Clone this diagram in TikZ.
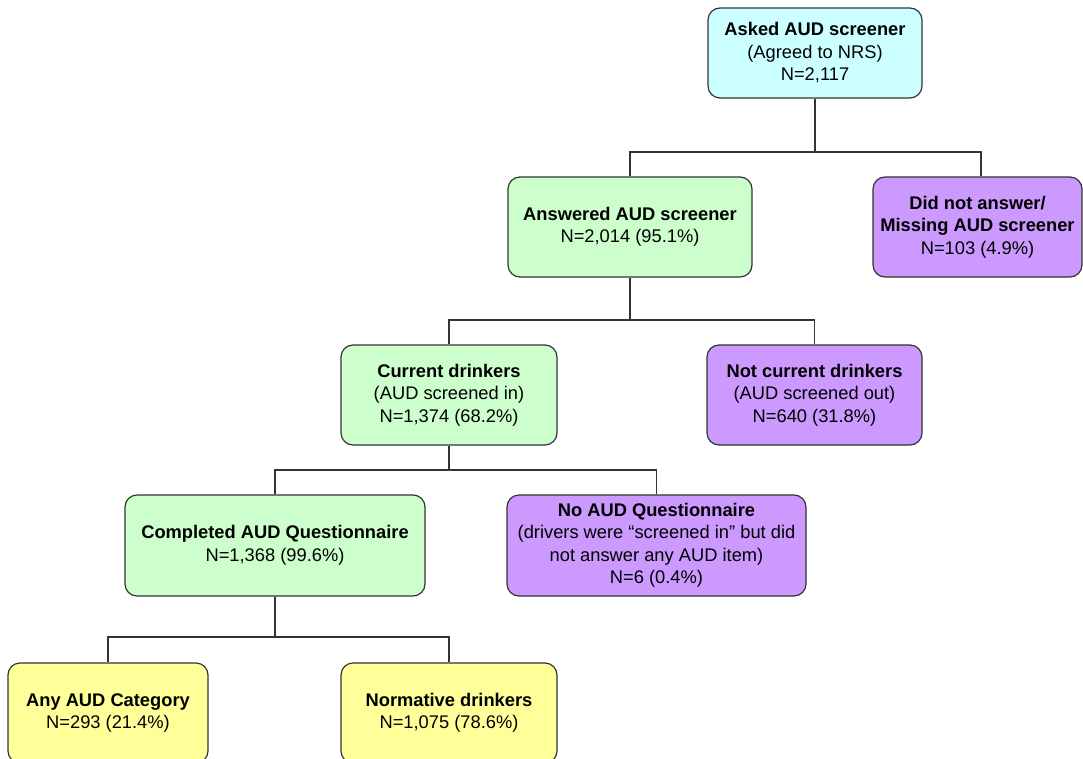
\documentclass[tikz,border=0pt]{standalone}
\usepackage{fontspec}
\setmainfont{Liberation Sans}
\definecolor{cyanbox}{HTML}{CCFFFF}
\definecolor{greenbox}{HTML}{CCFFCC}
\definecolor{purplebox}{HTML}{CC99FF}
\definecolor{yellowbox}{HTML}{FFFF99}
\definecolor{edge}{HTML}{333333}
\tikzset{
  box/.style={draw=edge, line width=1.2pt, rounded corners=12pt, align=center,
    inner sep=1pt, font=\fontsize{18.3}{22.5}\selectfont, text=black},
  link/.style={draw=edge, line width=1.3pt},
}
\begin{document}
\begin{tikzpicture}[x=1pt,y=-1pt]
\useasboundingbox (0,0) rectangle (1083,759);
\clip (0,0) rectangle (1083,759);
\fill[white] (0,0) rectangle (1083,759);
\node[box, fill=cyanbox, minimum width=214pt, minimum height=90pt] (top) at (815,53)
  {\textbf{Asked AUD screener}\\(Agreed to NRS)\\N=2,117};
\node[box, fill=greenbox, minimum width=244pt, minimum height=100pt] (ans) at (630,227)
  {\textbf{Answered AUD screener}\\N=2,014 (95.1\%)};
\node[box, fill=purplebox, minimum width=209pt, minimum height=100pt] (miss) at (977.5,227)
  {\textbf{Did not answer/}\\\textbf{Missing AUD screener}\\N=103 (4.9\%)};
\node[box, fill=greenbox, minimum width=216pt, minimum height=100pt] (cur) at (449,395)
  {\textbf{Current drinkers}\\(AUD screened in)\\N=1,374 (68.2\%)};
\node[box, fill=purplebox, minimum width=215pt, minimum height=100pt] (notcur) at (814.5,395)
  {\textbf{Not current drinkers}\\(AUD screened out)\\N=640 (31.8\%)};
\node[box, fill=greenbox, minimum width=300pt, minimum height=101pt] (comp) at (275,545.5)
  {\textbf{Completed AUD Questionnaire}\\N=1,368 (99.6\%)};
\node[box, fill=purplebox, minimum width=299pt, minimum height=101pt] (noq) at (656.5,545.5)
  {\textbf{No AUD Questionnaire}\\(drivers were “screened in” but did\\not answer any AUD item)\\N=6 (0.4\%)};
\node[box, fill=yellowbox, minimum width=200pt, minimum height=100pt] (any) at (108,713)
  {\textbf{Any AUD Category}\\N=293 (21.4\%)};
\node[box, fill=yellowbox, minimum width=216pt, minimum height=100pt] (norm) at (449,713)
  {\textbf{Normative drinkers}\\N=1,075 (78.6\%)};
\coordinate (b1) at (0,152);
\coordinate (b2) at (0,320);
\coordinate (b3) at (0,470);
\coordinate (b4) at (0,637);
\draw[link] (top.south) -- (top.south |- b1);
\draw[link] (ans.north) |- (top.south |- b1) -| ([xshift=3.5pt]miss.north);
\draw[link] (ans.south) -- (ans.south |- b2);
\draw[link] (cur.north) |- (ans.south |- b2) -| (notcur.north);
\draw[link] (cur.south) -- (cur.south |- b3);
\draw[link] (comp.north) |- (cur.south |- b3) -| (noq.north);
\draw[link] (comp.south) -- (comp.south |- b4);
\draw[link] (any.north) |- (comp.south |- b4) -| (norm.north);
\end{tikzpicture}
\end{document}
